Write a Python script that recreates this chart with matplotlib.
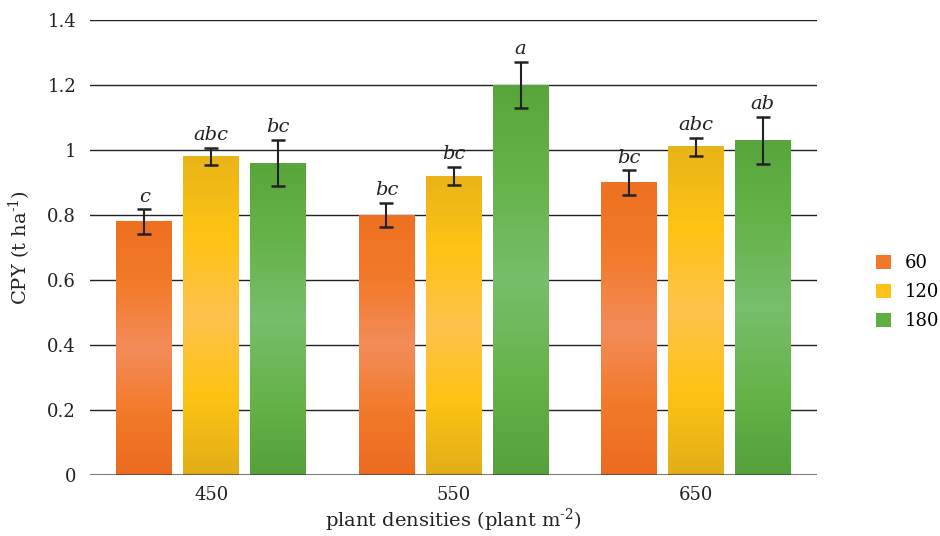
import matplotlib
matplotlib.use("Agg")
import matplotlib.pyplot as plt
import numpy as np
from matplotlib.colors import LinearSegmentedColormap
from matplotlib.patches import Patch

plt.rcParams['font.family'] = ['DejaVu Serif']
plt.rcParams['mathtext.fontset'] = 'dejavuserif'
plt.rcParams['mathtext.default'] = 'regular'

categories = ['450', '550', '650']
series_names = ['60', '120', '180']
values = {
    '60':  [0.78, 0.80, 0.90],
    '120': [0.98, 0.92, 1.01],
    '180': [0.96, 1.20, 1.03],
}
errors = {
    '60':  [0.037, 0.037, 0.037],
    '120': [0.027, 0.027, 0.027],
    '180': [0.072, 0.072, 0.072],
}
letters = {
    '60':  ['c', 'bc', 'bc'],
    '120': ['abc', 'bc', 'abc'],
    '180': ['bc', 'a', 'ab'],
}
yticks = [0, 0.2, 0.4, 0.6, 0.8, 1.0, 1.2, 1.4]
ytick_labels = ['0', '0.2', '0.4', '0.6', '0.8', '1', '1.2', '1.4']

gradients = {
    '60':  ['#EC6B21', '#F27A2A', '#F38C5A', '#F27A2A', '#EE7021'],
    '120': ['#E2AE18', '#FEC314', '#FFC24D', '#FEC314', '#E9B418'],
    '180': ['#55A13A', '#66B34A', '#78BE6C', '#66B34A', '#58A63B'],
}
legend_colors = {'60': '#F07828', '120': '#FDC21A', '180': '#5DAE45'}

fig = plt.figure(figsize=(9.4, 5.36), dpi=100)
ax = fig.add_axes([90/940, 1-475/536, (817-90)/940, (475-20)/536])

x = np.arange(len(categories))
width = 0.231
offsets = [-0.2765, 0.0, 0.2765]

grad = np.linspace(0, 1, 256).reshape(-1, 1)
for s, off in zip(series_names, offsets):
    cmap = LinearSegmentedColormap.from_list('g' + s, gradients[s])
    bars = ax.bar(x + off, values[s], width, color='none', edgecolor='none', zorder=2)
    for b in bars:
        x0, w, h = b.get_x(), b.get_width(), b.get_height()
        ax.imshow(grad, cmap=cmap, origin='lower', aspect='auto',
                  extent=[x0, x0 + w, 0, h], zorder=2, interpolation='bicubic')
    ax.errorbar(x + off, values[s], yerr=errors[s], fmt='none', ecolor='#222222',
                elinewidth=1.5, capsize=5, capthick=1.8, zorder=4)
    for xi, v, e, lab in zip(x + off, values[s], errors[s], letters[s]):
        ax.text(xi, v + e + 0.012, lab, ha='center', va='bottom', fontsize=14,
                style='italic', color='#222222', zorder=5)

ax.set_xlim(-0.5, 2.5)
ax.set_ylim(0, 1.4)
ax.set_yticks(yticks)
ax.set_yticklabels(ytick_labels)
ax.set_xticks(x)
ax.set_xticklabels(categories)
ax.tick_params(axis='both', length=0, labelsize=13, colors='#222222')
ax.tick_params(axis='y', pad=10)
ax.tick_params(axis='x', pad=8)
for sp in ax.spines.values():
    sp.set_visible(False)
for yv in yticks[1:]:
    ax.axhline(yv, color='#222222', lw=1.0, zorder=1)
ax.axhline(0, color='#404040', lw=2.2, alpha=0.7, zorder=3)

ax.set_ylabel(r'CPY (t ha$^{\text{-1}}$)', fontsize=14, color='#222222', labelpad=10)
ax.set_xlabel(r'plant densities (plant m$^{\text{-2}}$)', fontsize=14, color='#222222', labelpad=2)

handles = [Patch(facecolor=legend_colors[s], edgecolor='none', label=s) for s in series_names]
fig.legend(handles=handles, loc='center left', bbox_to_anchor=(0.915, 0.455),
           frameon=False, fontsize=13, handlelength=0.8, handleheight=0.8,
           handletextpad=0.8, labelspacing=0.6)

fig.savefig('out.png', dpi=100)
